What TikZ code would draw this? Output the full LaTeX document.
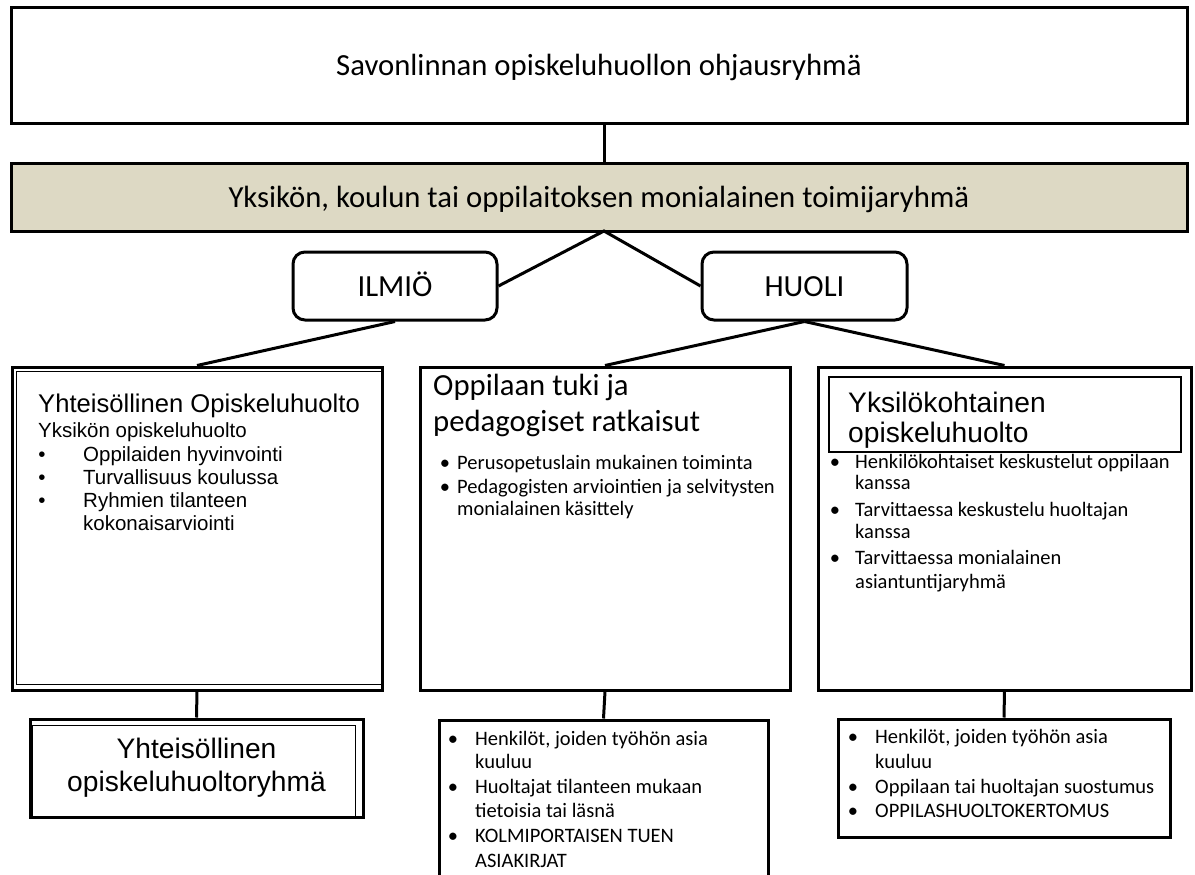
\documentclass[tikz,border=0pt]{standalone}
\usepackage{fontspec}
\setmainfont{Carlito}
\newfontfamily\arial{Liberation Sans}
\definecolor{hiekka}{RGB}{221,217,196}
\newcommand{\paksu}{3pt}
\newcommand{\ohutviiva}{1.2pt}
\newcommand{\isofontti}{\fontsize{30.7pt}{36pt}\selectfont}
\newcommand{\keskifontti}{\fontsize{28.2pt}{33pt}\selectfont}
\newcommand{\otsikkofontti}{\fontsize{25.6pt}{30pt}\selectfont}
\newcommand{\pienifontti}{\fontsize{20.5pt}{24pt}\selectfont}

\begin{document}
\begin{tikzpicture}[x=1pt, y=-1pt,
    laatikko/.style={draw, line width=\paksu, inner sep=0pt},
    tasainen/.style={text height=20pt, text depth=0pt},
    kulma/.style={laatikko, tasainen, rounded corners=12pt},
    ohut/.style={draw, line width=\ohutviiva},
    yhteys/.style={line width=\paksu},
    rivi/.style={anchor=base west, inner sep=0pt},
    pallo/.style={anchor=base, inner sep=0pt}]
  \useasboundingbox (0,0) rectangle (1195,875);

      % ylimmat tasot
  \node (ohjaus) at (599,65.5) [laatikko, tasainen, minimum width=1176pt, minimum height=115pt] {\isofontti Savonlinnan opiskeluhuollon ohjausryhmä};
  \node (toimija) at (599,197) [laatikko, tasainen, fill=hiekka, minimum width=1176pt, minimum height=68pt] {\isofontti Yksikön, koulun tai oppilaitoksen monialainen toimijaryhmä};
  \node (ilmio) at (395,286) [kulma, minimum width=204pt, minimum height=68pt] {\isofontti ILMIÖ};
  \node (huoli) at (804.5,286) [kulma, minimum width=205pt, minimum height=68pt] {\isofontti HUOLI};
  \coordinate (haara) at (604,231);
  \draw[yhteys] (haara |- ohjaus.south) to (haara |- toimija.north);
  \draw[yhteys] (ilmio.east) to (haara) to (huoli.west);

      % kolme laatikkoa
  \node (yhteiso) at (197,528.5) [laatikko, minimum width=370pt, minimum height=323pt] {};
  \node (tuki) at (605,528.5) [laatikko, minimum width=370pt, minimum height=323pt] {};
  \node (yksilo) at (1004.5,528.5) [laatikko, minimum width=373pt, minimum height=323pt] {};
  \draw[yhteys] (ilmio.south) to (yhteiso.north);
  \draw[yhteys] (huoli.south) to (tuki.north);
  \draw[yhteys] (huoli.south) to (yksilo.north);

      % yhteisollinen
  \draw[ohut] ([shift={(6,6)}]yhteiso.north west) rectangle ([shift={(-2,-7)}]yhteiso.south east);
  \node (yhteiso-otsikko) at (38,412) [rivi] {\arial\otsikkofontti Yhteisöllinen Opiskeluhuolto};
  \node (yhteiso-ala) at (38,437) [rivi] {\arial\pienifontti Yksikön opiskeluhuolto};
  \foreach \y in {461,484,507}
  {
    \node (yhteiso-m\y) at (42,\y) [pallo] {\arial\pienifontti •};
  }
  \foreach \y/\t in {461/Oppilaiden hyvinvointi, 484/Turvallisuus koulussa, 507/Ryhmien tilanteen, 530/kokonaisarviointi}
  {
    \node (yhteiso-\y) at (83,\y) [rivi] {\arial\pienifontti \t};
  }

      % tuki
  \node (tuki-otsikko1) at (433,395) [rivi] {\isofontti Oppilaan tuki ja};
  \node (tuki-otsikko2) at (433,431) [rivi] {\isofontti pedagogiset ratkaisut};
  \foreach \y in {469,493}
  {
    \node (tuki-m\y) at (445,\y) [pallo] {\pienifontti •};
  }
  \foreach \y/\t in {469/Perusopetuslain mukainen toiminta, 493/Pedagogisten arviointien ja selvitysten, 515/monialainen käsittely}
  {
    \node (tuki-\y) at (457,\y) [rivi] {\pienifontti \t};
  }

      % yksilokohtainen
  \foreach \y in {468,516,564}
  {
    \node (yksilo-m\y) at (835,\y) [pallo] {\pienifontti •};
  }
  \foreach \y/\t in {468/Henkilökohtaiset keskustelut oppilaan, 489/kanssa, 516/Tarvittaessa keskustelu huoltajan, 538/kanssa, 564/Tarvittaessa monialainen, 588/asiantuntijaryhmä}
  {
    \node (yksilo-\y) at (855,\y) [rivi] {\pienifontti \t};
  }
  \node (yksilo-kehys) at (1005,414.5) [ohut, fill=white, minimum width=352pt, minimum height=75pt] {};
  \node (yksilo-otsikko1) at (848,412) [rivi] {\arial\keskifontti Yksilökohtainen};
  \node (yksilo-otsikko2) at (848,442) [rivi] {\arial\keskifontti opiskeluhuolto};

      % alimmat laatikot
  \node (yhteisoryhma) at (196.5,768) [laatikko, minimum width=333pt, minimum height=98pt, align=center, font=\arial\keskifontti] {Yhteisöllinen\\opiskeluhuoltoryhmä};
  \draw[ohut] ([shift={(4,8)}]yhteisoryhma.north west) rectangle ([shift={(-9,-2)}]yhteisoryhma.south east);
  \node (tukiala) at (603.5,799) [laatikko, minimum width=329pt, minimum height=158pt] {};
  \node (yksiloala) at (1004,778) [laatikko, minimum width=332pt, minimum height=118pt] {};
  \draw[yhteys] (yhteiso.south) to (yhteisoryhma.north);
  \draw[yhteys] (tuki.south) to (tukiala.north);
  \draw[yhteys] (yksilo.south) to (yksiloala.north);

  \foreach \y in {745,793,842}
  {
    \node (tukiala-m\y) at (453,\y) [pallo] {\pienifontti •};
  }
  \foreach \y/\t in {745/{Henkilöt, joiden työhön asia}, 768/kuuluu, 793/Huoltajat tilanteen mukaan, 817/tietoisia tai läsnä, 842/KOLMIPORTAISEN TUEN, 867/ASIAKIRJAT}
  {
    \node (tukiala-\y) at (475,\y) [rivi] {\pienifontti \t};
  }
  \foreach \y in {743,793,817}
  {
    \node (yksiloala-m\y) at (853,\y) [pallo] {\pienifontti •};
  }
  \foreach \y/\t in {743/{Henkilöt, joiden työhön asia}, 768/kuuluu, 793/Oppilaan tai huoltajan suostumus, 817/OPPILASHUOLTOKERTOMUS}
  {
    \node (yksiloala-\y) at (875,\y) [rivi] {\pienifontti \t};
  }
\end{tikzpicture}
\end{document}
